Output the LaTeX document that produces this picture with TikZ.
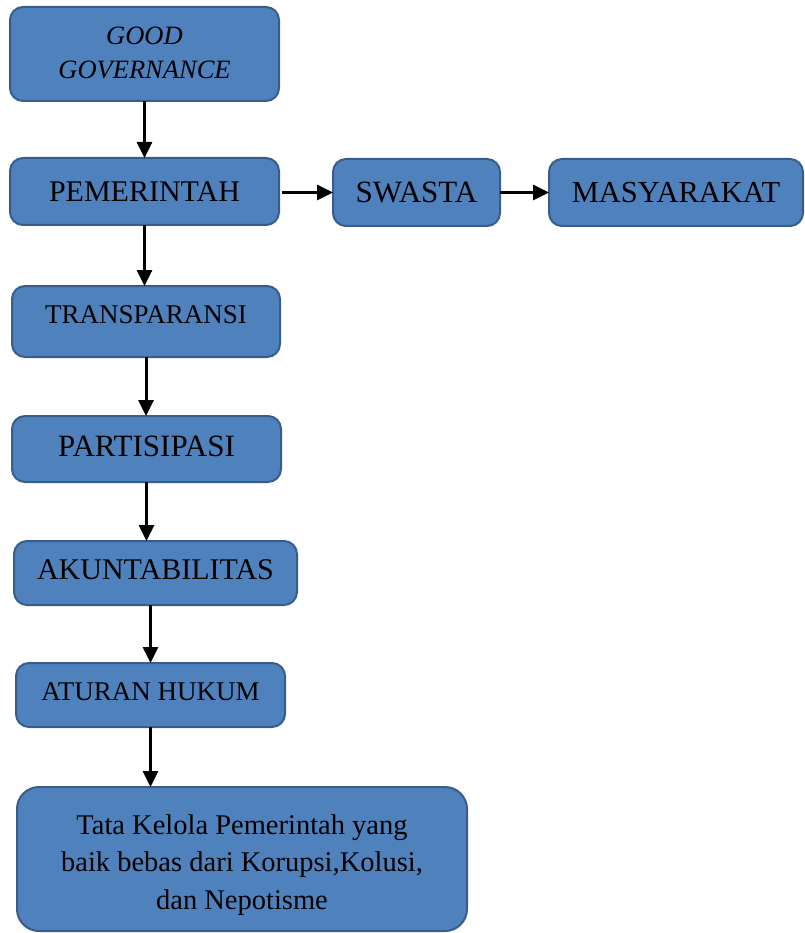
\documentclass[tikz,border=0pt]{standalone}
\usepackage{fontspec}
\setmainfont{Liberation Serif}
\usetikzlibrary{arrows.meta}
\definecolor{boxfill}{HTML}{4F81BD}
\definecolor{boxline}{HTML}{385D8A}
\begin{document}
\begin{tikzpicture}[x=1pt,y=-1pt,
  box/.style={draw=boxline, fill=boxfill, line width=2pt, rounded corners=13pt,
    outer sep=0pt, inner sep=2pt, align=center, text=black,
    font=\fontsize{30}{34}\selectfont},
  smalltxt/.style={font=\fontsize{27}{33}\selectfont},
  arr/.style={line width=3pt, -{Triangle[length=16pt,width=15pt]}}]
\useasboundingbox (0,0) rectangle (804,933);
\node[box, minimum width=269pt, minimum height=94pt, font=\fontsize{26.5}{34}\selectfont\itshape, text depth=3pt] (gg) at (144.5,54) {GOOD\\GOVERNANCE};
\node[box, minimum width=269pt, minimum height=67pt] (pem) at (144.5,191.5) {PEMERINTAH};
\node[box, minimum width=167pt, minimum height=67pt, font=\fontsize{31}{34}\selectfont] (swa) at (416.5,192.5) {SWASTA};
\node[box, minimum width=254pt, minimum height=67pt, font=\fontsize{30.5}{34}\selectfont] (mas) at (676,192.5) {MASYARAKAT};
\node[box, smalltxt, minimum width=268pt, minimum height=71pt, text depth=14pt] (tra) at (146,321.5) {TRANSPARANSI};
\node[box, minimum width=269pt, minimum height=66pt, text depth=6pt, font=\fontsize{31}{34}\selectfont] (par) at (146.5,449) {PARTISIPASI};
\node[box, minimum width=283pt, minimum height=64pt, text depth=6pt] (aku) at (155.5,573) {AKUNTABILITAS};
\node[box, smalltxt, minimum width=269pt, minimum height=64pt, text depth=6pt] (atu) at (150.5,695) {ATURAN HUKUM};
\node[box, minimum width=450pt, minimum height=144pt, rounded corners=22pt] (bot) at (242,859) {};
\node[align=center, font=\fontsize{28.5}{37.5}\selectfont, inner sep=0pt] (bottxt) at ([yshift=-6pt]bot.center) {Tata Kelola Pemerintah yang\\baik bebas dari Korupsi,Kolusi,\\dan Nepotisme};
\draw[arr] (gg.south) -- (pem.north);
\draw[arr] (pem.south) -- (pem.south |- tra.north);
\draw[arr] (tra.south) -- (tra.south |- par.north);
\draw[arr] (par.south) -- (par.south |- aku.north);
\draw[arr] (atu.north |- aku.south) -- (atu.north);
\draw[arr] (atu.south) -- (atu.south |- bot.north);
\draw[arr, shorten <=3pt] (pem.east |- swa.west) -- (swa.west);
\draw[arr] (swa.east) -- (mas.west);
\end{tikzpicture}
\end{document}
